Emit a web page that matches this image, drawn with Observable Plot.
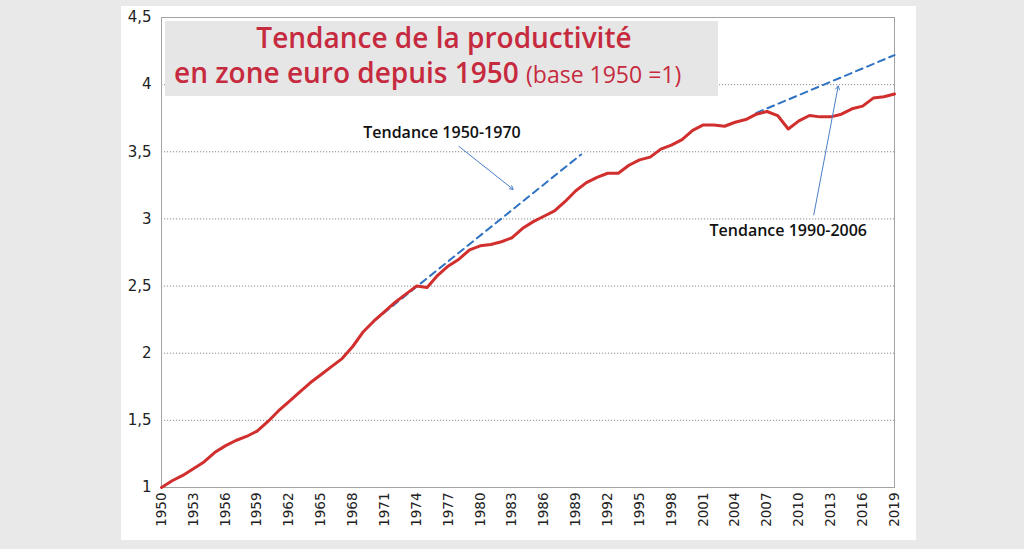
<!DOCTYPE html>
<html lang="fr">
<head>
<meta charset="utf-8">
<script src="https://cdn.jsdelivr.net/npm/d3@7"></script>
<script src="https://cdn.jsdelivr.net/npm/@observablehq/plot@0.6"></script>
<style>
  html, body { margin: 0; padding: 0; background: #e9e9e9; }
  #wrap { position: relative; width: 1024px; height: 549px; overflow: hidden; }
  #panel { position: absolute; left: 121px; top: 6px; width: 795px; height: 534px; background: #ffffff; }
  #chart { position: absolute; left: 0; top: 0; }
</style>
</head>
<body>
<div id="wrap">
  <div id="panel"></div>
  <div id="chart"></div>
</div>
<script>
// Productivité en zone euro, base 1950 = 1
const years = [
  1950, 1951, 1952, 1953, 1954, 1955, 1956, 1957, 1958, 1959,
  1960, 1961, 1962, 1963, 1964, 1965, 1966, 1967, 1968, 1969,
  1970, 1971, 1972, 1973, 1974, 1975, 1976, 1977, 1978, 1979,
  1980, 1981, 1982, 1983, 1984, 1985, 1986, 1987, 1988, 1989,
  1990, 1991, 1992, 1993, 1994, 1995, 1996, 1997, 1998, 1999,
  2000, 2001, 2002, 2003, 2004, 2005, 2006, 2007, 2008, 2009,
  2010, 2011, 2012, 2013, 2014, 2015, 2016, 2017, 2018, 2019
];
const productivity = [
  1.00, 1.05, 1.09, 1.14, 1.19, 1.26, 1.31, 1.35, 1.38, 1.42,
  1.49, 1.57, 1.64, 1.71, 1.78, 1.84, 1.90, 1.96, 2.05, 2.16,
  2.24, 2.31, 2.38, 2.44, 2.50, 2.49, 2.58, 2.65, 2.70, 2.77,
  2.80, 2.81, 2.83, 2.86, 2.93, 2.98, 3.02, 3.06, 3.13, 3.21,
  3.27, 3.31, 3.34, 3.34, 3.40, 3.44, 3.46, 3.52, 3.55, 3.59,
  3.66, 3.70, 3.70, 3.69, 3.72, 3.74, 3.78, 3.80, 3.77, 3.67,
  3.73, 3.77, 3.76, 3.76, 3.78, 3.82, 3.84, 3.90, 3.91, 3.93
];

// Tendances prolongées (segments pointillés)
const trend5070Years = [1970, 1989.5];
const trend5070Values = [2.24, 3.48];
const trend9006Years = [2006, 2019];
const trend9006Values = [3.79, 4.22];

// Annotations : libellés et flèches
const noteLabels = ["Tendance 1950-1970", "Tendance 1990-2006"];
const noteLabelX = [1976.4, 2009.0];
const noteLabelY = [3.64, 2.91];
const arrowFromX = [1978.0, 2011.4];
const arrowFromY = [3.54, 3.03];
const arrowToX = [1983.1, 2013.7];
const arrowToY = [3.22, 3.99];

// Axes
const xTicks = [1950, 1953, 1956, 1959, 1962, 1965, 1968, 1971, 1974, 1977, 1980, 1983,
  1986, 1989, 1992, 1995, 1998, 2001, 2004, 2007, 2010, 2013, 2016, 2019];
const yTicks = [1, 1.5, 2, 2.5, 3, 3.5, 4, 4.5];
const gridTicks = [1.5, 2, 2.5, 3, 3.5, 4];

const series = years.map((y, i) => ({year: y, value: productivity[i]}));
const trendA = trend5070Years.map((y, i) => ({year: y, value: trend5070Values[i]}));
const trendB = trend9006Years.map((y, i) => ({year: y, value: trend9006Values[i]}));
const notes = noteLabels.map((t, i) => ({text: t, x: noteLabelX[i], y: noteLabelY[i]}));
const arrows = arrowFromX.map((x, i) => ({x1: x, y1: arrowFromY[i], x2: arrowToX[i], y2: arrowToY[i]}));

const decimalComma = d => String(d).replace(".", ",");

const chart = Plot.plot({
  width: 1024,
  height: 549,
  marginLeft: 161,
  marginRight: 130,
  marginTop: 17,
  marginBottom: 62,
  style: {background: "transparent", fontFamily: "DejaVu Sans, sans-serif", color: "#222"},
  x: {domain: [1950, 2019]},
  y: {domain: [1, 4.5]},
  marks: [
    Plot.gridY(gridTicks, {stroke: "#8c8c8c", strokeOpacity: 1, strokeDasharray: "1.2,1.8", strokeWidth: 1}),
    Plot.frame({stroke: "#a3a3a3", strokeWidth: 1}),
    Plot.axisY(yTicks, {tickSize: 0, tickPadding: 10, tickFormat: decimalComma, fontSize: 15, label: null}),
    Plot.axisX(xTicks, {tickSize: 0, tickPadding: 5, tickRotate: -90, tickFormat: d => String(d), fontSize: 13.5, label: null}),
    Plot.line(trendA, {x: "year", y: "value", stroke: "#2f72c2", strokeWidth: 2, strokeDasharray: "7,5"}),
    Plot.line(trendB, {x: "year", y: "value", stroke: "#2f72c2", strokeWidth: 2, strokeDasharray: "7,5"}),
    Plot.line(series, {x: "year", y: "value", stroke: "#d12e2e", strokeWidth: 3, strokeLinejoin: "round"}),
    Plot.arrow(arrows, {x1: "x1", y1: "y1", x2: "x2", y2: "y2", stroke: "#4a7fc6", strokeWidth: 1, headLength: 6, bend: 0}),
    Plot.text(notes, {x: "x", y: "y", text: "text", fontSize: 16, fontWeight: 600, fill: "#111",
      fontFamily: "Open Sans, sans-serif"})
  ]
});

// Encadré du titre, dessiné dans le SVG
const svg = d3.select(chart);
const titleColor = "#c62a3e";
svg.append("rect")
  .attr("x", 165).attr("y", 21).attr("width", 553).attr("height", 75)
  .attr("fill", "#e6e6e6");
svg.append("text")
  .attr("x", 444).attr("y", 48)
  .attr("text-anchor", "middle")
  .attr("font-family", "Open Sans, sans-serif")
  .attr("font-weight", 600)
  .attr("font-size", 28)
  .attr("fill", titleColor)
  .text("Tendance de la productivité");
const line2 = svg.append("text")
  .attr("x", 174).attr("y", 83)
  .attr("text-anchor", "start")
  .attr("font-family", "Open Sans, sans-serif")
  .attr("fill", titleColor);
line2.append("tspan").attr("font-weight", 600).attr("font-size", 28).text("en zone euro depuis 1950 ");
line2.append("tspan").attr("font-weight", 400).attr("font-size", 23).text("(base 1950 =1)");

document.getElementById("chart").appendChild(chart);
</script>
</body>
</html>
